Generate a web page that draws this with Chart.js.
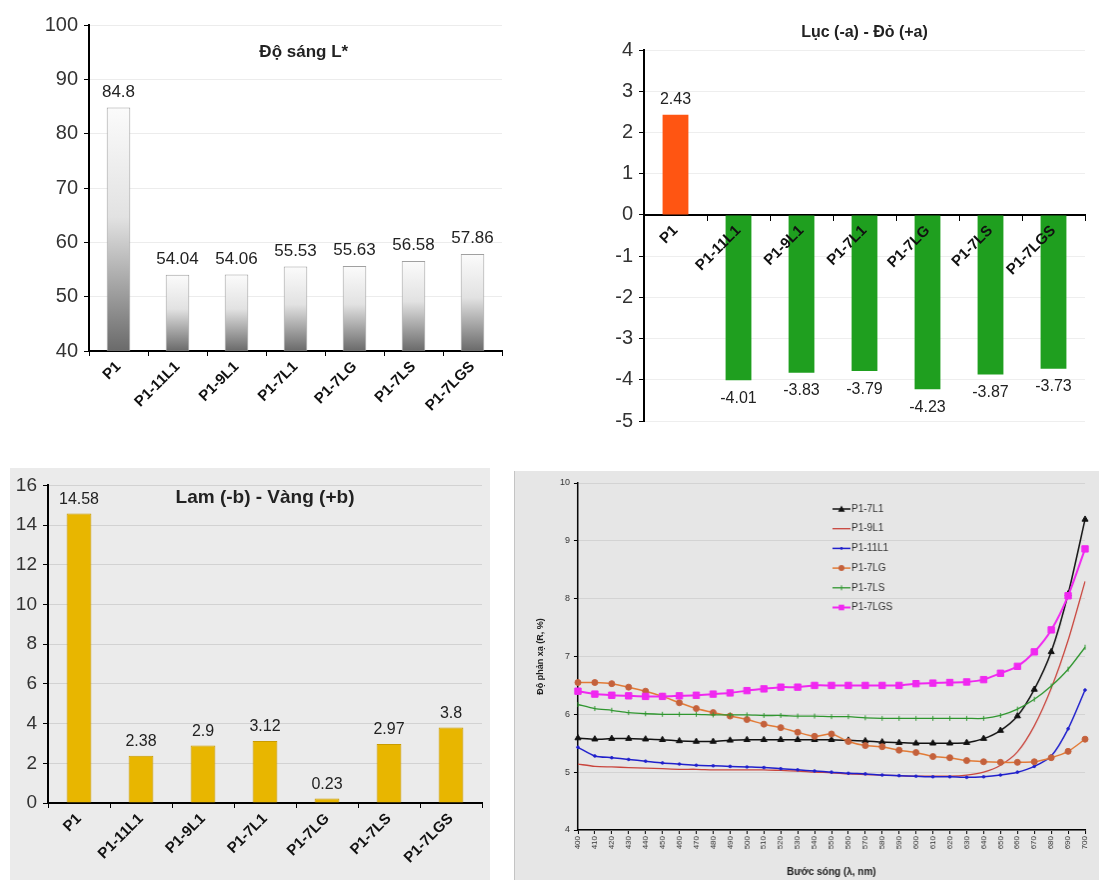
<!DOCTYPE html>
<html>
<head>
<meta charset="utf-8">
<script src="https://cdn.jsdelivr.net/npm/chart.js@4.4.0/dist/chart.umd.min.js"></script>
<style>
  body { margin: 0; width: 1109px; height: 880px; background: #fff; position: relative; overflow: hidden; }
  canvas { position: absolute; }
  #lightChart { left: 0; top: 0; }
  #aChart { left: 560px; top: 0; }
  #bChart { left: 10px; top: 468px; background: #ebebeb; }
  #reflChart { left: 514px; top: 471px; background: #e6e6e6; border-left: 1px solid #c4c4c4; }
</style>
</head>
<body>
<canvas id="lightChart" width="540" height="430"></canvas>
<canvas id="aChart" width="549" height="440"></canvas>
<canvas id="bChart" width="480" height="412"></canvas>
<canvas id="reflChart" width="585" height="409"></canvas>
<script>
// samples shared by the three bar charts
const samples = ["P1", "P1-11L1", "P1-9L1", "P1-7L1", "P1-7LG", "P1-7LS", "P1-7LGS"];
const lightness = [84.8, 54.04, 54.06, 55.53, 55.63, 56.58, 57.86];
const greenRed = [2.43, -4.01, -3.83, -3.79, -4.23, -3.87, -3.73];
const blueYellow = [14.58, 2.38, 2.9, 3.12, 0.23, 2.97, 3.8];

// reflectance curves, 400..700 nm
const wavelengths = [400, 410, 420, 430, 440, 450, 460, 470, 480, 490, 500, 510, 520, 530, 540, 550,
  560, 570, 580, 590, 600, 610, 620, 630, 640, 650, 660, 670, 680, 690, 700];
const r7L1 = [5.59, 5.57, 5.58, 5.58, 5.57, 5.56, 5.54, 5.53, 5.53, 5.55, 5.56, 5.56, 5.56, 5.56, 5.56, 5.56,
  5.55, 5.54, 5.52, 5.51, 5.5, 5.5, 5.5, 5.51, 5.58, 5.72, 5.97, 6.43, 7.08, 8.08, 9.37];
const r9L1 = [5.14, 5.1, 5.09, 5.08, 5.07, 5.06, 5.05, 5.05, 5.04, 5.04, 5.04, 5.04, 5.03, 5.02, 5.0, 4.99,
  4.97, 4.96, 4.95, 4.94, 4.93, 4.93, 4.93, 4.95, 5.0, 5.12, 5.35, 5.8, 6.45, 7.28, 8.3];
const r11L1 = [5.43, 5.28, 5.25, 5.22, 5.19, 5.16, 5.14, 5.12, 5.11, 5.1, 5.09, 5.08, 5.06, 5.04, 5.02, 5.0,
  4.98, 4.97, 4.95, 4.94, 4.93, 4.92, 4.92, 4.91, 4.92, 4.95, 5.0, 5.1, 5.28, 5.75, 6.42];
const r7LG = [6.55, 6.55, 6.53, 6.47, 6.4, 6.31, 6.2, 6.1, 6.03, 5.97, 5.91, 5.83, 5.77, 5.69, 5.62, 5.66,
  5.53, 5.46, 5.44, 5.38, 5.34, 5.27, 5.25, 5.2, 5.18, 5.17, 5.17, 5.18, 5.25, 5.36, 5.57];
const r7LS = [6.17, 6.1, 6.07, 6.03, 6.01, 6.0, 6.0, 6.0, 5.99, 5.99, 5.99, 5.98, 5.98, 5.97, 5.97, 5.96,
  5.96, 5.94, 5.93, 5.93, 5.93, 5.93, 5.93, 5.93, 5.93, 5.98, 6.09, 6.26, 6.49, 6.78, 7.16];
const r7LGS = [6.4, 6.35, 6.33, 6.32, 6.31, 6.31, 6.32, 6.33, 6.35, 6.37, 6.41, 6.44, 6.47, 6.47, 6.5, 6.5,
  6.5, 6.5, 6.5, 6.5, 6.53, 6.54, 6.55, 6.56, 6.6, 6.71, 6.83, 7.08, 7.46, 8.05, 8.86];

Chart.defaults.font.family = '"Liberation Sans", Arial, sans-serif';
Chart.defaults.color = "#333";
Chart.defaults.animation = false;
Chart.defaults.plugins.legend.display = false;
Chart.defaults.plugins.tooltip.enabled = false;

// numbers printed above / below each bar
const valueLabels = {
  id: "valueLabels",
  afterDatasetsDraw(chart, args, opts) {
    const ctx = chart.ctx;
    chart.data.datasets.forEach((ds, i) => {
      chart.getDatasetMeta(i).data.forEach((bar, j) => {
        const v = ds.data[j];
        ctx.save();
        ctx.font = opts.font;
        ctx.fillStyle = opts.color || "#222";
        ctx.textAlign = "center";
        if (v >= 0) {
          ctx.textBaseline = "bottom";
          ctx.fillText(String(v), bar.x, bar.y - (opts.above || 6));
        } else {
          ctx.textBaseline = "top";
          ctx.fillText(String(v), bar.x, bar.y + (opts.below || 10));
        }
        ctx.restore();
      });
    });
  }
};

// chart heading, placed relative to the plot area
const panelTitle = {
  id: "panelTitle",
  afterDraw(chart, args, opts) {
    if (!opts.text) return;
    const a = chart.chartArea;
    const ctx = chart.ctx;
    ctx.save();
    ctx.font = opts.font;
    ctx.fillStyle = "#222";
    ctx.textAlign = "center";
    ctx.textBaseline = "middle";
    ctx.fillText(opts.text, a.left + a.width * opts.x, a.top + opts.dy);
    ctx.restore();
  }
};

function catAxis(fontSize) {
  return {
    grid: { drawOnChartArea: false, offset: true, tickColor: "#000", tickLength: 5 },
    border: { color: "#000", width: 2 },
    ticks: { color: "#111", font: { size: fontSize, weight: "bold" }, minRotation: 45, maxRotation: 45, padding: 2, autoSkip: false }
  };
}

function valueAxis(min, max, step, gridColor, fontSize, width) {
  return {
    min: min, max: max,
    grid: { color: gridColor, tickColor: "#000", tickLength: 5 },
    border: { color: "#000", width: 2 },
    ticks: { stepSize: step, color: "#333", font: { size: fontSize }, padding: 6 },
    afterFit: (s) => { s.width = width; }
  };
}

function greyShade(ctx) {
  const chart = ctx.chart;
  if (!chart.chartArea || !ctx.parsed) return "#d0d0d0";
  const y = chart.scales.y;
  const top = y.getPixelForValue(ctx.parsed.y);
  const bottom = y.getPixelForValue(y.min);
  const g = chart.ctx.createLinearGradient(0, top, 0, bottom);
  g.addColorStop(0, "#fbfbfb");
  g.addColorStop(0.45, "#e2e2e2");
  g.addColorStop(1, "#6a6a6a");
  return g;
}

// Độ sáng L*
const lx = catAxis(15);
lx.afterFit = (s) => { s.height = 79; };
new Chart(document.getElementById("lightChart"), {
  type: "bar",
  data: {
    labels: samples,
    datasets: [{ data: lightness, backgroundColor: greyShade, borderColor: "#a0a0a0", borderWidth: 1,
      barPercentage: 0.4, categoryPercentage: 1 }]
  },
  options: {
    responsive: false,
    layout: { padding: { top: 25, right: 38, left: 0, bottom: 0 } },
    scales: { x: lx, y: valueAxis(40, 100, 10, "#ececec", 20, 89) },
    plugins: {
      valueLabels: { font: "17px 'Liberation Sans', Arial, sans-serif", above: 7 },
      panelTitle: { text: "Độ sáng L*", font: "bold 17px 'Liberation Sans', Arial, sans-serif", x: 0.52, dy: 27 }
    }
  },
  plugins: [valueLabels, panelTitle]
});

// Lục (-a) - Đỏ (+a)
const ax = catAxis(15);
ax.position = { y: 0 };
ax.ticks.z = 1;
ax.afterFit = (s) => { s.height = 0; };
new Chart(document.getElementById("aChart"), {
  type: "bar",
  data: {
    labels: samples,
    datasets: [{ data: greenRed,
      backgroundColor: greenRed.map(v => v >= 0 ? "#ff5512" : "#1f9f1f"),
      barPercentage: 0.41, categoryPercentage: 1 }]
  },
  options: {
    responsive: false,
    layout: { padding: { top: 50, right: 24, left: 0, bottom: 19 } },
    scales: { x: ax, y: valueAxis(-5, 4, 1, "#eeeeee", 20, 84) },
    plugins: {
      valueLabels: { font: "16px 'Liberation Sans', Arial, sans-serif", above: 7, below: 10 },
      panelTitle: { text: "Lục (-a) - Đỏ (+a)", font: "bold 16px 'Liberation Sans', Arial, sans-serif", x: 0.5, dy: -17 }
    }
  },
  plugins: [valueLabels, panelTitle]
});

// Lam (-b) - Vàng (+b)
const bx = catAxis(15);
bx.afterFit = (s) => { s.height = 77; };
new Chart(document.getElementById("bChart"), {
  type: "bar",
  data: {
    labels: samples,
    datasets: [{ data: blueYellow, backgroundColor: "#e8b600", borderColor: "#c99c00", borderWidth: 1,
      barPercentage: 0.4, categoryPercentage: 1 }]
  },
  options: {
    responsive: false,
    layout: { padding: { top: 9, right: 8, left: 0, bottom: 0 } },
    scales: { x: bx, y: valueAxis(0, 16, 2, "#d2d2d2", 19, 38) },
    plugins: {
      valueLabels: { font: "16px 'Liberation Sans', Arial, sans-serif", above: 6 },
      panelTitle: { text: "Lam (-b) - Vàng (+b)", font: "bold 19px 'Liberation Sans', Arial, sans-serif", x: 0.5, dy: 12 }
    }
  },
  plugins: [valueLabels, panelTitle]
});

// legend drawn inside the reflectance plot
function drawMarker(ctx, style, x, y, r) {
  ctx.beginPath();
  if (style === "triangle") {
    ctx.moveTo(x, y - r); ctx.lineTo(x + r, y + r * 0.8); ctx.lineTo(x - r, y + r * 0.8); ctx.closePath(); ctx.fill();
  } else if (style === "rect") {
    ctx.fillRect(x - r * 0.8, y - r * 0.8, r * 1.6, r * 1.6);
  } else if (style === "circle") {
    ctx.arc(x, y, r, 0, Math.PI * 2); ctx.fill();
  } else if (style === "line") {
    ctx.moveTo(x, y - r); ctx.lineTo(x, y + r); ctx.stroke();
  }
}
const insideLegend = {
  id: "insideLegend",
  afterDraw(chart, args, opts) {
    const ctx = chart.ctx;
    const a = chart.chartArea;
    chart.data.datasets.forEach((ds, i) => {
      const x = a.left + opts.left;
      const y = a.top + opts.top + i * opts.step;
      ctx.save();
      ctx.strokeStyle = ds.borderColor;
      ctx.fillStyle = ds.pointBackgroundColor || ds.borderColor;
      ctx.lineWidth = ds.borderWidth;
      ctx.beginPath(); ctx.moveTo(x, y); ctx.lineTo(x + 18, y); ctx.stroke();
      if (ds.pointRadius > 0) {
        ctx.strokeStyle = ds.pointBorderColor || ds.borderColor;
        ctx.lineWidth = 1;
        drawMarker(ctx, ds.pointStyle, x + 9, y, Math.min(ds.pointRadius, 3.5));
      }
      ctx.fillStyle = "#333";
      ctx.font = "10px 'Liberation Sans', Arial, sans-serif";
      ctx.textBaseline = "middle";
      ctx.fillText(ds.label, x + 19, y);
      ctx.restore();
    });
  }
};

function curve(label, data, color, width, style, radius, order, pointColor) {
  return {
    label: label, data: data, borderColor: color, borderWidth: width,
    pointStyle: style, pointRadius: radius, pointBackgroundColor: pointColor || color,
    pointBorderColor: pointColor || color, pointBorderWidth: 1,
    pointRotation: style === "line" ? 90 : 0,
    tension: 0.25, fill: false, order: order
  };
}

new Chart(document.getElementById("reflChart"), {
  type: "line",
  data: {
    labels: wavelengths,
    datasets: [
      curve("P1-7L1", r7L1, "#111111", 1.5, "triangle", 3.5, 5),
      curve("P1-9L1", r9L1, "#c9453d", 1.3, "circle", 0, 4),
      curve("P1-11L1", r11L1, "#2020cc", 1.5, "circle", 1.3, 3),
      curve("P1-7LG", r7LG, "#e27a35", 1.5, "circle", 3, 2, "#c4613c"),
      curve("P1-7LS", r7LS, "#2f962f", 1.3, "line", 2.5, 1),
      curve("P1-7LGS", r7LGS, "#f028f0", 2, "rect", 4.5, 0)
    ]
  },
  options: {
    responsive: false,
    layout: { padding: { top: 12, right: 14, left: 20, bottom: 0 } },
    scales: {
      x: {
        grid: { drawOnChartArea: false, tickColor: "#000", tickLength: 4 },
        border: { color: "#000", width: 1.5 },
        ticks: { color: "#333", font: { size: 8 }, minRotation: 90, maxRotation: 90, autoSkip: false, padding: 2 },
        title: { display: true, text: "Bước sóng (λ, nm)", color: "#222", font: { size: 10, weight: "bold" }, padding: { top: 0, bottom: 2 } },
        afterFit: (s) => { s.height = 50; }
      },
      y: {
        min: 4, max: 10,
        grid: { color: "#d3d3d3", tickColor: "#000", tickLength: 4 },
        border: { color: "#000", width: 1.5 },
        ticks: { stepSize: 1, color: "#333", font: { size: 9 }, padding: 4 },
        title: { display: true, text: "Độ phản xạ (R, %)", color: "#222", font: { size: 9, weight: "bold" }, padding: 0 },
        afterFit: (s) => { s.width = 43; }
      }
    },
    plugins: {
      insideLegend: { left: 255, top: 26, step: 19.7 }
    }
  },
  plugins: [insideLegend]
});
</script>
</body>
</html>
